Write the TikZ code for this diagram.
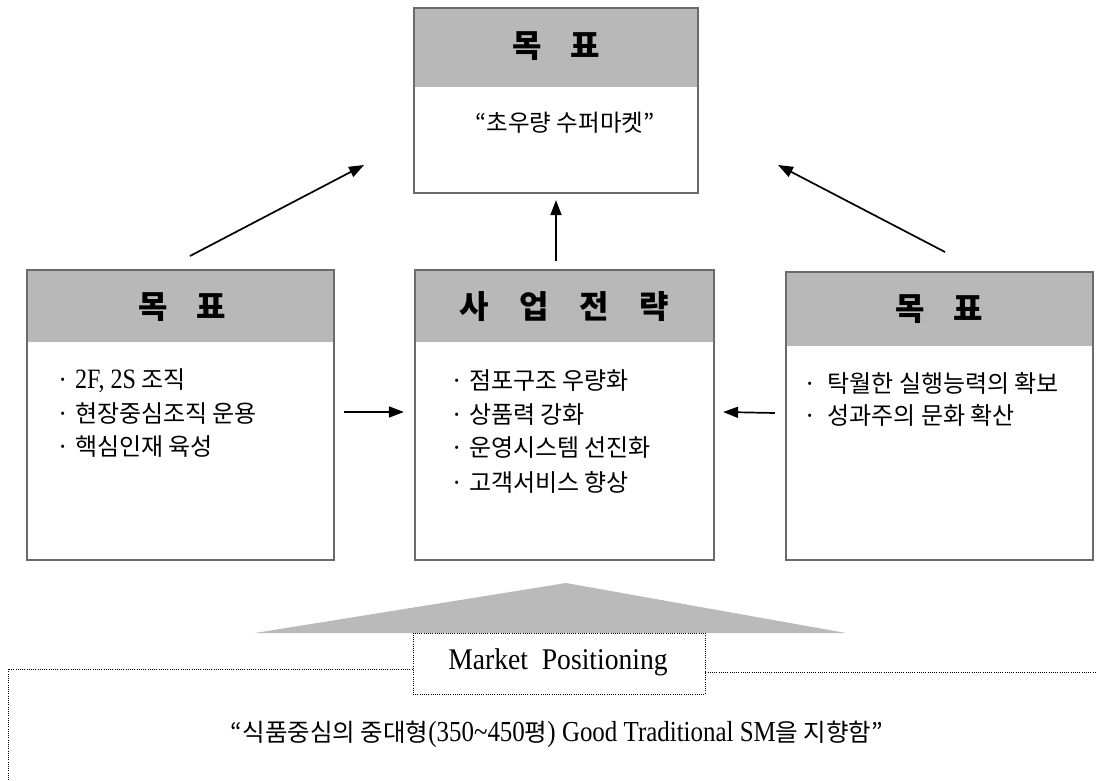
\documentclass[tikz,border=0pt]{standalone}
\usepackage{fontspec}
\setmainfont{Liberation Serif}
\newfontfamily\kr{Noto Sans CJK KR}
\newfontfamily\latc[FakeStretch=0.86]{Liberation Serif}
\newfontfamily\latm[FakeStretch=0.92]{Liberation Serif}
\usetikzlibrary{arrows.meta,calc}
\definecolor{hdr}{gray}{0.72}
\definecolor{edge}{gray}{0.42}
\tikzset{
  box/.style={draw=edge,line width=2.2pt,inner sep=0pt},
  arr/.style={line width=1.7pt,-{Triangle[length=15pt,width=11pt]}},
  head/.style={font=\kr\bfseries\fontsize{32}{34}\selectfont},
  item/.style={font=\kr\fontsize{24}{26}\selectfont,anchor=west,inner sep=0pt},
  dotline/.style={draw=black,line width=0.9pt,dash pattern=on 0.9pt off 1.3pt}
}
\begin{document}
\begin{tikzpicture}[x=1pt,y=-1pt]
\useasboundingbox (0,0) rectangle (1097,781);
% top box
\fill[hdr] (414,8) rectangle (698,87);
\node[box,minimum width=284pt,minimum height=185pt] (top) at (556,100.5) {};
\node[head] (toph) at (556,46) {목\hspace{0.9em}표};
\node[font=\kr\fontsize{23.5}{26}\selectfont] (topt) at (565,123) {“초우량 수퍼마켓”};
% left box
\fill[hdr] (27,270) rectangle (334,342);
\node[box,minimum width=307pt,minimum height=290pt] (lbox) at (180.5,415) {};
\node[head] (lh) at (182,307) {목\hspace{0.9em}표};
\node[item] (l1) at (56,381) {· {\latc\fontsize{28}{30}\selectfont 2F, 2S} 조직};
\node[item] (l2) at (56,414) {· 현장중심조직 운용};
\node[item] (l3) at (56,447) {· 핵심인재 육성};
% middle box
\fill[hdr] (415,270) rectangle (714,342);
\node[box,minimum width=299pt,minimum height=290pt] (mbox) at (564.5,415) {};
\node[head] (mh) at (564,307) {사\hspace{0.95em}업\hspace{0.95em}전\hspace{0.95em}략};
\node[item] (m1) at (450,381) {· 점포구조 우량화};
\node[item] (m2) at (450,414.5) {· 상품력 강화};
\node[item] (m3) at (450,448) {· 운영시스템 선진화};
\node[item] (m4) at (450,482) {· 고객서비스 향상};
% right box
\fill[hdr] (786,272) rectangle (1093,346);
\node[box,minimum width=307pt,minimum height=288pt] (rbox) at (939.5,416) {};
\node[head] (rh) at (939.5,309) {목\hspace{0.9em}표};
\node[item] (r1) at (803,383) {·\ \ 탁월한 실행능력의 확보};
\node[item] (r2) at (803,415) {·\ \ 성과주의 문화 확산};
% arrows
\coordinate (la0) at (190,256);
\coordinate (la1) at (364,165);
\coordinate (ra0) at (945,252);
\coordinate (ra1) at (778,165);
\draw[arr] (la0) -- (la1);
\draw[arr] (ra0) -- (ra1);
\draw[arr] (mbox.north -| top.south) ++(0,-8) coordinate (va0) -- ($(top.south)+(0,6)$);
\draw[arr] ($(lbox.east)+(9,-3)$) -- ($(mbox.west)+(-10,-3)$);
\draw[arr] ($(rbox.west)+(-10,-3)$) -- ($(mbox.east)+(8,-3)$);
% pyramid and market positioning
\fill[black!27] (255,633) -- (566,583) -- (846,633) -- cycle;
\node[dotline,minimum width=292pt,minimum height=61pt,inner sep=0pt] (mp) at (559,663.5) {};
\node[font=\latm\fontsize{30}{32}\selectfont] (mpt) at (558,662) {Market\ \ Positioning};
\coordinate (bl) at (8,669);
\draw[dotline] (mp.west |- bl) -- (bl) -- (8,781);
\draw[dotline] (mp.east |- 0,672) -- (1097,672);
\node[font=\kr\fontsize{24.5}{26}\selectfont] (bt) at (557,734) {“식품중심의 중대형{\latc\fontsize{29}{30}\selectfont(350\textasciitilde450}평{\latc\fontsize{29}{30}\selectfont) Good Traditional SM}을 지향함”};
\end{tikzpicture}
\end{document}
